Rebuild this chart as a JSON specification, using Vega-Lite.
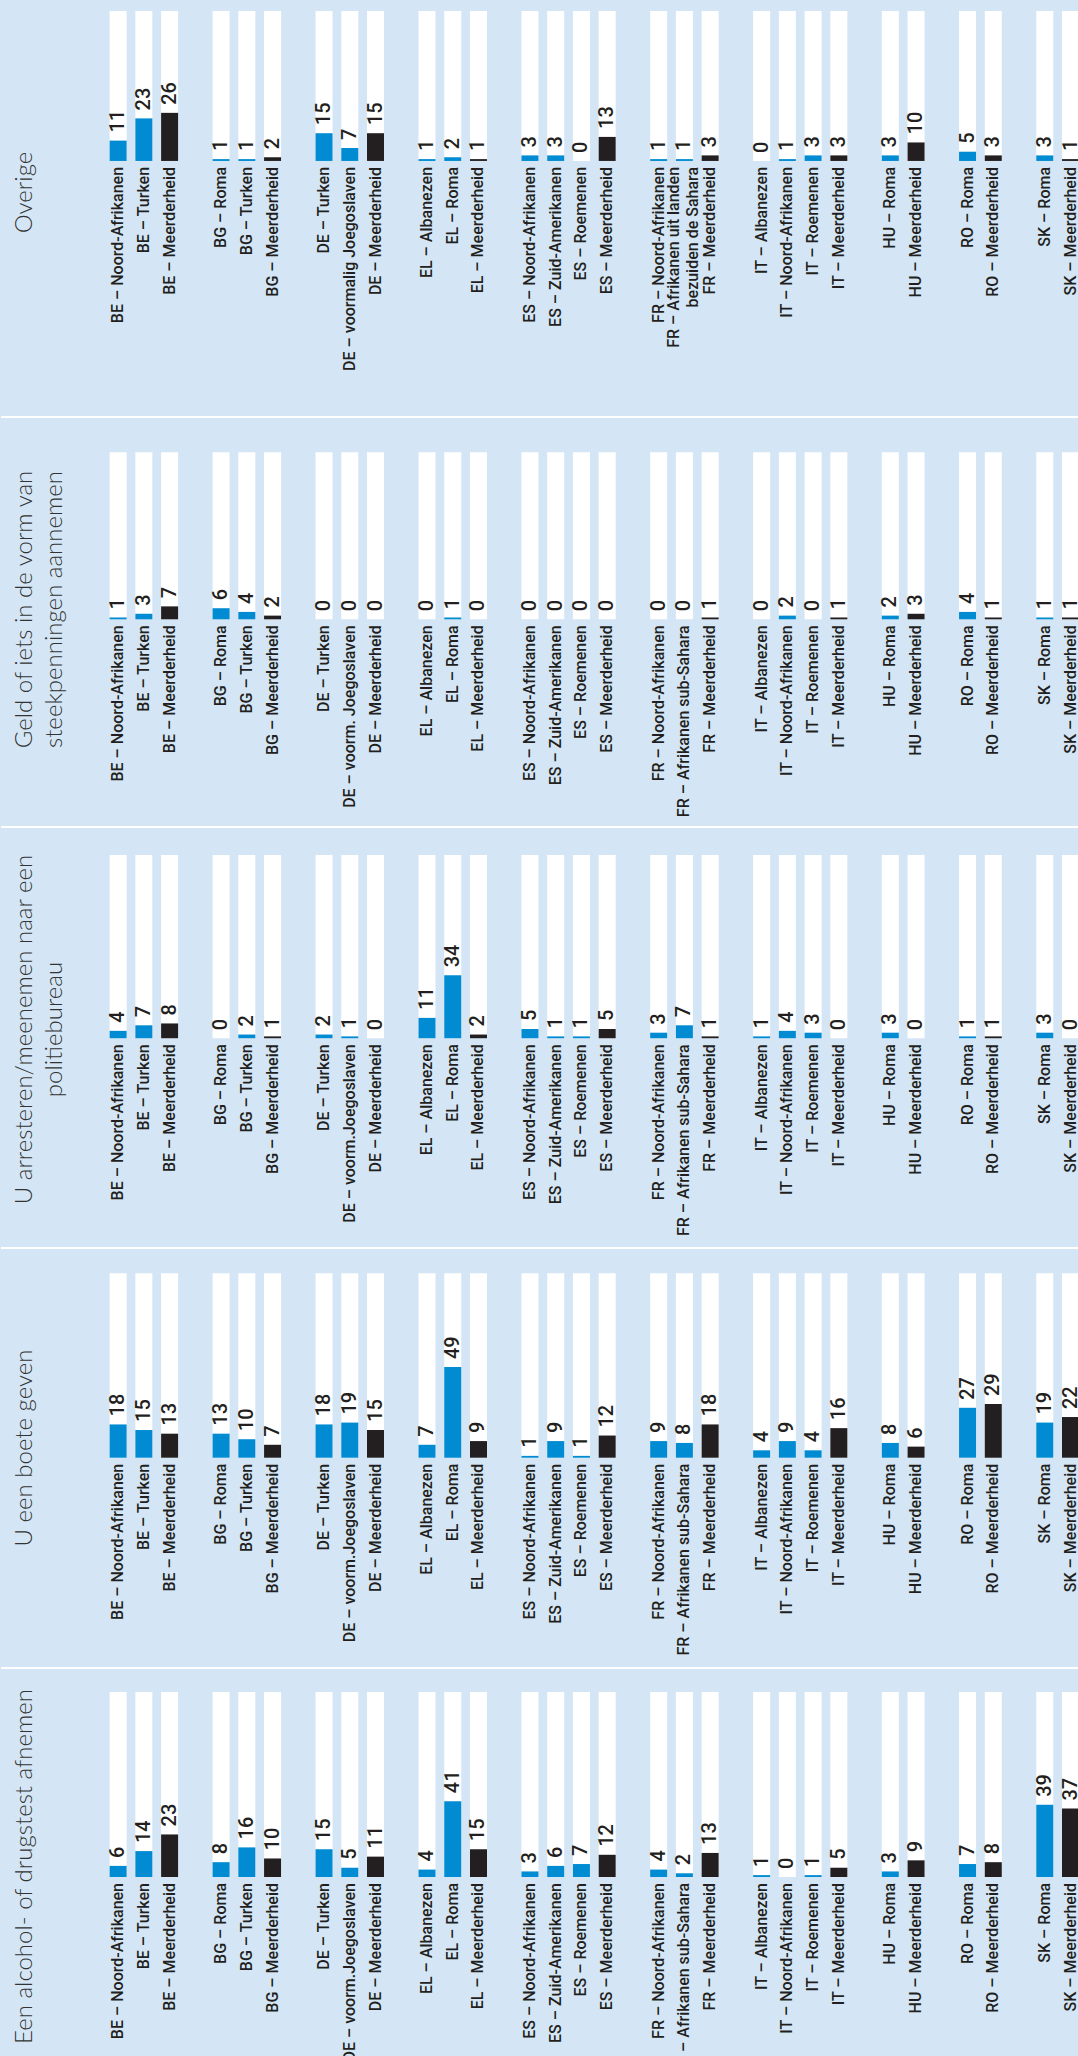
{
  "$schema": "https://vega.github.io/schema/vega-lite/v6.json",
  "background": "#d4e6f5",
  "padding": 0,
  "spacing": 0,
  "bounds": "flush",
  "config": {
    "view": {"stroke": null},
    "axisY": {"labels": false, "ticks": false, "domain": false, "grid": false, "titleAngle": 270, "titleBaseline": "top", "titleAlign": "center", "titleFont": "Lato", "titleFontWeight": 300, "titleFontSize": 24, "titleColor": "#333333", "titleLineHeight": 30}
  },
  "data": {"values": [
    {"p":"O","k":"BE1","l":"BE – Noord-Afrikanen","g":"Minderheid","v":11},
    {"p":"O","k":"BE2","l":"BE – Turken","g":"Minderheid","v":23},
    {"p":"O","k":"BE3","l":"BE – Meerderheid","g":"Meerderheid","v":26},
    {"p":"O","k":"BG1","l":"BG – Roma","g":"Minderheid","v":1},
    {"p":"O","k":"BG2","l":"BG – Turken","g":"Minderheid","v":1},
    {"p":"O","k":"BG3","l":"BG – Meerderheid","g":"Meerderheid","v":2},
    {"p":"O","k":"DE1","l":"DE – Turken","g":"Minderheid","v":15},
    {"p":"O","k":"DE2","l":"DE – voormalig Joegoslaven","g":"Minderheid","v":7},
    {"p":"O","k":"DE3","l":"DE – Meerderheid","g":"Meerderheid","v":15},
    {"p":"O","k":"EL1","l":"EL – Albanezen","g":"Minderheid","v":1},
    {"p":"O","k":"EL2","l":"EL – Roma","g":"Minderheid","v":2},
    {"p":"O","k":"EL3","l":"EL – Meerderheid","g":"Meerderheid","v":1},
    {"p":"O","k":"ES1","l":"ES – Noord-Afrikanen","g":"Minderheid","v":3},
    {"p":"O","k":"ES2","l":"ES – Zuid-Amerikanen","g":"Minderheid","v":3},
    {"p":"O","k":"ES3","l":"ES – Roemenen","g":"Minderheid","v":0},
    {"p":"O","k":"ES4","l":"ES – Meerderheid","g":"Meerderheid","v":13},
    {"p":"O","k":"FR1","l":"FR – Noord-Afrikanen","g":"Minderheid","v":1},
    {"p":"O","k":"FR2","l":"FR – Afrikanen uit landen\nbezuiden de Sahara","g":"Minderheid","v":1},
    {"p":"O","k":"FR3","l":"FR – Meerderheid","g":"Meerderheid","v":3},
    {"p":"O","k":"IT1","l":"IT – Albanezen","g":"Minderheid","v":0},
    {"p":"O","k":"IT2","l":"IT – Noord-Afrikanen","g":"Minderheid","v":1},
    {"p":"O","k":"IT3","l":"IT – Roemenen","g":"Minderheid","v":3},
    {"p":"O","k":"IT4","l":"IT – Meerderheid","g":"Meerderheid","v":3},
    {"p":"O","k":"HU1","l":"HU – Roma","g":"Minderheid","v":3},
    {"p":"O","k":"HU2","l":"HU – Meerderheid","g":"Meerderheid","v":10},
    {"p":"O","k":"RO1","l":"RO – Roma","g":"Minderheid","v":5},
    {"p":"O","k":"RO2","l":"RO – Meerderheid","g":"Meerderheid","v":3},
    {"p":"O","k":"SK1","l":"SK – Roma","g":"Minderheid","v":3},
    {"p":"O","k":"SK2","l":"SK – Meerderheid","g":"Meerderheid","v":1},

    {"p":"G","k":"BE1","l":"BE – Noord-Afrikanen","g":"Minderheid","v":1},
    {"p":"G","k":"BE2","l":"BE – Turken","g":"Minderheid","v":3},
    {"p":"G","k":"BE3","l":"BE – Meerderheid","g":"Meerderheid","v":7},
    {"p":"G","k":"BG1","l":"BG – Roma","g":"Minderheid","v":6},
    {"p":"G","k":"BG2","l":"BG – Turken","g":"Minderheid","v":4},
    {"p":"G","k":"BG3","l":"BG – Meerderheid","g":"Meerderheid","v":2},
    {"p":"G","k":"DE1","l":"DE – Turken","g":"Minderheid","v":0},
    {"p":"G","k":"DE2","l":"DE – voorm. Joegoslaven","g":"Minderheid","v":0},
    {"p":"G","k":"DE3","l":"DE – Meerderheid","g":"Meerderheid","v":0},
    {"p":"G","k":"EL1","l":"EL – Albanezen","g":"Minderheid","v":0},
    {"p":"G","k":"EL2","l":"EL – Roma","g":"Minderheid","v":1},
    {"p":"G","k":"EL3","l":"EL – Meerderheid","g":"Meerderheid","v":0},
    {"p":"G","k":"ES1","l":"ES – Noord-Afrikanen","g":"Minderheid","v":0},
    {"p":"G","k":"ES2","l":"ES – Zuid-Amerikanen","g":"Minderheid","v":0},
    {"p":"G","k":"ES3","l":"ES – Roemenen","g":"Minderheid","v":0},
    {"p":"G","k":"ES4","l":"ES – Meerderheid","g":"Meerderheid","v":0},
    {"p":"G","k":"FR1","l":"FR – Noord-Afrikanen","g":"Minderheid","v":0},
    {"p":"G","k":"FR2","l":"FR – Afrikanen sub-Sahara","g":"Minderheid","v":0},
    {"p":"G","k":"FR3","l":"FR – Meerderheid","g":"Meerderheid","v":1},
    {"p":"G","k":"IT1","l":"IT – Albanezen","g":"Minderheid","v":0},
    {"p":"G","k":"IT2","l":"IT – Noord-Afrikanen","g":"Minderheid","v":2},
    {"p":"G","k":"IT3","l":"IT – Roemenen","g":"Minderheid","v":0},
    {"p":"G","k":"IT4","l":"IT – Meerderheid","g":"Meerderheid","v":1},
    {"p":"G","k":"HU1","l":"HU – Roma","g":"Minderheid","v":2},
    {"p":"G","k":"HU2","l":"HU – Meerderheid","g":"Meerderheid","v":3},
    {"p":"G","k":"RO1","l":"RO – Roma","g":"Minderheid","v":4},
    {"p":"G","k":"RO2","l":"RO – Meerderheid","g":"Meerderheid","v":1},
    {"p":"G","k":"SK1","l":"SK – Roma","g":"Minderheid","v":1},
    {"p":"G","k":"SK2","l":"SK – Meerderheid","g":"Meerderheid","v":1},

    {"p":"A","k":"BE1","l":"BE – Noord-Afrikanen","g":"Minderheid","v":4},
    {"p":"A","k":"BE2","l":"BE – Turken","g":"Minderheid","v":7},
    {"p":"A","k":"BE3","l":"BE – Meerderheid","g":"Meerderheid","v":8},
    {"p":"A","k":"BG1","l":"BG – Roma","g":"Minderheid","v":0},
    {"p":"A","k":"BG2","l":"BG – Turken","g":"Minderheid","v":2},
    {"p":"A","k":"BG3","l":"BG – Meerderheid","g":"Meerderheid","v":1},
    {"p":"A","k":"DE1","l":"DE – Turken","g":"Minderheid","v":2},
    {"p":"A","k":"DE2","l":"DE – voorm.Joegoslaven","g":"Minderheid","v":1},
    {"p":"A","k":"DE3","l":"DE – Meerderheid","g":"Meerderheid","v":0},
    {"p":"A","k":"EL1","l":"EL – Albanezen","g":"Minderheid","v":11},
    {"p":"A","k":"EL2","l":"EL – Roma","g":"Minderheid","v":34},
    {"p":"A","k":"EL3","l":"EL – Meerderheid","g":"Meerderheid","v":2},
    {"p":"A","k":"ES1","l":"ES – Noord-Afrikanen","g":"Minderheid","v":5},
    {"p":"A","k":"ES2","l":"ES – Zuid-Amerikanen","g":"Minderheid","v":1},
    {"p":"A","k":"ES3","l":"ES – Roemenen","g":"Minderheid","v":1},
    {"p":"A","k":"ES4","l":"ES – Meerderheid","g":"Meerderheid","v":5},
    {"p":"A","k":"FR1","l":"FR – Noord-Afrikanen","g":"Minderheid","v":3},
    {"p":"A","k":"FR2","l":"FR – Afrikanen sub-Sahara","g":"Minderheid","v":7},
    {"p":"A","k":"FR3","l":"FR – Meerderheid","g":"Meerderheid","v":1},
    {"p":"A","k":"IT1","l":"IT – Albanezen","g":"Minderheid","v":1},
    {"p":"A","k":"IT2","l":"IT – Noord-Afrikanen","g":"Minderheid","v":4},
    {"p":"A","k":"IT3","l":"IT – Roemenen","g":"Minderheid","v":3},
    {"p":"A","k":"IT4","l":"IT – Meerderheid","g":"Meerderheid","v":0},
    {"p":"A","k":"HU1","l":"HU – Roma","g":"Minderheid","v":3},
    {"p":"A","k":"HU2","l":"HU – Meerderheid","g":"Meerderheid","v":0},
    {"p":"A","k":"RO1","l":"RO – Roma","g":"Minderheid","v":1},
    {"p":"A","k":"RO2","l":"RO – Meerderheid","g":"Meerderheid","v":1},
    {"p":"A","k":"SK1","l":"SK – Roma","g":"Minderheid","v":3},
    {"p":"A","k":"SK2","l":"SK – Meerderheid","g":"Meerderheid","v":0},

    {"p":"B","k":"BE1","l":"BE – Noord-Afrikanen","g":"Minderheid","v":18},
    {"p":"B","k":"BE2","l":"BE – Turken","g":"Minderheid","v":15},
    {"p":"B","k":"BE3","l":"BE – Meerderheid","g":"Meerderheid","v":13},
    {"p":"B","k":"BG1","l":"BG – Roma","g":"Minderheid","v":13},
    {"p":"B","k":"BG2","l":"BG – Turken","g":"Minderheid","v":10},
    {"p":"B","k":"BG3","l":"BG – Meerderheid","g":"Meerderheid","v":7},
    {"p":"B","k":"DE1","l":"DE – Turken","g":"Minderheid","v":18},
    {"p":"B","k":"DE2","l":"DE – voorm.Joegoslaven","g":"Minderheid","v":19},
    {"p":"B","k":"DE3","l":"DE – Meerderheid","g":"Meerderheid","v":15},
    {"p":"B","k":"EL1","l":"EL – Albanezen","g":"Minderheid","v":7},
    {"p":"B","k":"EL2","l":"EL – Roma","g":"Minderheid","v":49},
    {"p":"B","k":"EL3","l":"EL – Meerderheid","g":"Meerderheid","v":9},
    {"p":"B","k":"ES1","l":"ES – Noord-Afrikanen","g":"Minderheid","v":1},
    {"p":"B","k":"ES2","l":"ES – Zuid-Amerikanen","g":"Minderheid","v":9},
    {"p":"B","k":"ES3","l":"ES – Roemenen","g":"Minderheid","v":1},
    {"p":"B","k":"ES4","l":"ES – Meerderheid","g":"Meerderheid","v":12},
    {"p":"B","k":"FR1","l":"FR – Noord-Afrikanen","g":"Minderheid","v":9},
    {"p":"B","k":"FR2","l":"FR – Afrikanen sub-Sahara","g":"Minderheid","v":8},
    {"p":"B","k":"FR3","l":"FR – Meerderheid","g":"Meerderheid","v":18},
    {"p":"B","k":"IT1","l":"IT – Albanezen","g":"Minderheid","v":4},
    {"p":"B","k":"IT2","l":"IT – Noord-Afrikanen","g":"Minderheid","v":9},
    {"p":"B","k":"IT3","l":"IT – Roemenen","g":"Minderheid","v":4},
    {"p":"B","k":"IT4","l":"IT – Meerderheid","g":"Meerderheid","v":16},
    {"p":"B","k":"HU1","l":"HU – Roma","g":"Minderheid","v":8},
    {"p":"B","k":"HU2","l":"HU – Meerderheid","g":"Meerderheid","v":6},
    {"p":"B","k":"RO1","l":"RO – Roma","g":"Minderheid","v":27},
    {"p":"B","k":"RO2","l":"RO – Meerderheid","g":"Meerderheid","v":29},
    {"p":"B","k":"SK1","l":"SK – Roma","g":"Minderheid","v":19},
    {"p":"B","k":"SK2","l":"SK – Meerderheid","g":"Meerderheid","v":22},

    {"p":"D","k":"BE1","l":"BE – Noord-Afrikanen","g":"Minderheid","v":6},
    {"p":"D","k":"BE2","l":"BE – Turken","g":"Minderheid","v":14},
    {"p":"D","k":"BE3","l":"BE – Meerderheid","g":"Meerderheid","v":23},
    {"p":"D","k":"BG1","l":"BG – Roma","g":"Minderheid","v":8},
    {"p":"D","k":"BG2","l":"BG – Turken","g":"Minderheid","v":16},
    {"p":"D","k":"BG3","l":"BG – Meerderheid","g":"Meerderheid","v":10},
    {"p":"D","k":"DE1","l":"DE – Turken","g":"Minderheid","v":15},
    {"p":"D","k":"DE2","l":"DE – voorm.Joegoslaven","g":"Minderheid","v":5},
    {"p":"D","k":"DE3","l":"DE – Meerderheid","g":"Meerderheid","v":11},
    {"p":"D","k":"EL1","l":"EL – Albanezen","g":"Minderheid","v":4},
    {"p":"D","k":"EL2","l":"EL – Roma","g":"Minderheid","v":41},
    {"p":"D","k":"EL3","l":"EL – Meerderheid","g":"Meerderheid","v":15},
    {"p":"D","k":"ES1","l":"ES – Noord-Afrikanen","g":"Minderheid","v":3},
    {"p":"D","k":"ES2","l":"ES – Zuid-Amerikanen","g":"Minderheid","v":6},
    {"p":"D","k":"ES3","l":"ES – Roemenen","g":"Minderheid","v":7},
    {"p":"D","k":"ES4","l":"ES – Meerderheid","g":"Meerderheid","v":12},
    {"p":"D","k":"FR1","l":"FR – Noord-Afrikanen","g":"Minderheid","v":4},
    {"p":"D","k":"FR2","l":"FR – Afrikanen sub-Sahara","g":"Minderheid","v":2},
    {"p":"D","k":"FR3","l":"FR – Meerderheid","g":"Meerderheid","v":13},
    {"p":"D","k":"IT1","l":"IT – Albanezen","g":"Minderheid","v":1},
    {"p":"D","k":"IT2","l":"IT – Noord-Afrikanen","g":"Minderheid","v":0},
    {"p":"D","k":"IT3","l":"IT – Roemenen","g":"Minderheid","v":1},
    {"p":"D","k":"IT4","l":"IT – Meerderheid","g":"Meerderheid","v":5},
    {"p":"D","k":"HU1","l":"HU – Roma","g":"Minderheid","v":3},
    {"p":"D","k":"HU2","l":"HU – Meerderheid","g":"Meerderheid","v":9},
    {"p":"D","k":"RO1","l":"RO – Roma","g":"Minderheid","v":7},
    {"p":"D","k":"RO2","l":"RO – Meerderheid","g":"Meerderheid","v":8},
    {"p":"D","k":"SK1","l":"SK – Roma","g":"Minderheid","v":39},
    {"p":"D","k":"SK2","l":"SK – Meerderheid","g":"Meerderheid","v":37}
  ]},
  "vconcat": [
    {
      "width": 1078, "height": 417,
      "transform": [{"filter": "datum.p === 'O'"}],
      "encoding": {"x": {"field": "k", "type": "nominal", "axis": null, "scale": {"domain": ["a1","a2","a3","a4","BE1","BE2","BE3","s1","BG1","BG2","BG3","s2","DE1","DE2","DE3","s3","EL1","EL2","EL3","s4","ES1","ES2","ES3","ES4","s5","FR1","FR2","FR3","s6","IT1","IT2","IT3","IT4","s7","HU1","HU2","s8","RO1","RO2","s9","SK1","SK2"], "paddingInner": 0.34, "paddingOuter": 0.11, "align": 1, "round": false}}},
      "layer": [
        {"mark": {"type": "bar", "color": "#ffffff"},
         "encoding": {"y": {"datum": 81.1, "type": "quantitative", "scale": {"domain": [-138.4, 87.0], "nice": false, "zero": false},
           "axis": {"title": "Overige", "titleX": 11, "titleY": 192}},
           "y2": {"datum": 0}}},
        {"mark": {"type": "bar"},
         "encoding": {"y": {"field": "v", "type": "quantitative"}, "y2": {"datum": 0},
           "color": {"field": "g", "type": "nominal", "legend": null, "scale": {"domain": ["Minderheid", "Meerderheid"], "range": ["#008bd2", "#231f20"]}}}},
        {"mark": {"type": "text", "angle": 270, "align": "left", "baseline": "middle", "dx": 8, "font": "Roboto", "fontWeight": 500, "fontSize": 20, "color": "#231f20"},
         "encoding": {"y": {"field": "v", "type": "quantitative"}, "text": {"field": "v"}}},
        {"transform": [{"filter": "indexof(datum.l, '\\n') < 0"}],
         "mark": {"type": "text", "angle": 270, "align": "right", "baseline": "middle", "dx": -6, "font": "Roboto", "fontWeight": 500, "fontSize": 16, "color": "#231f20"},
         "encoding": {"y": {"datum": 0, "type": "quantitative"}, "text": {"field": "l"}}},
        {"transform": [{"filter": "indexof(datum.l, '\\n') >= 0"}],
         "mark": {"type": "text", "angle": 270, "align": "right", "baseline": "middle", "dx": -6, "dy": -10, "lineBreak": "\n", "lineHeight": 19, "font": "Roboto", "fontWeight": 500, "fontSize": 16, "color": "#231f20"},
         "encoding": {"y": {"datum": 0, "type": "quantitative"}, "text": {"field": "l"}}}
      ]
    },
    {
      "width": 1078, "height": 410,
      "layer": [
        {
          "transform": [{"filter": "datum.p === 'G'"}],
          "encoding": {"x": {"field": "k", "type": "nominal", "axis": null, "scale": {"domain": ["a1","a2","a3","a4","BE1","BE2","BE3","s1","BG1","BG2","BG3","s2","DE1","DE2","DE3","s3","EL1","EL2","EL3","s4","ES1","ES2","ES3","ES4","s5","FR1","FR2","FR3","s6","IT1","IT2","IT3","IT4","s7","HU1","HU2","s8","RO1","RO2","s9","SK1","SK2"], "paddingInner": 0.34, "paddingOuter": 0.11, "align": 1, "round": false}}},
          "layer": [
            {"mark": {"type": "bar", "color": "#ffffff"},
             "encoding": {"y": {"datum": 90.3, "type": "quantitative", "scale": {"domain": [-112.3, 109.4], "nice": false, "zero": false},
               "axis": {"title": ["Geld of iets in de vorm van", "steekpenningen aannemen"], "titleX": 11, "titleY": 192}},
               "y2": {"datum": 0}}},
            {"mark": {"type": "bar"},
             "encoding": {"y": {"field": "v", "type": "quantitative"}, "y2": {"datum": 0},
               "color": {"field": "g", "type": "nominal", "legend": null, "scale": {"domain": ["Minderheid", "Meerderheid"], "range": ["#008bd2", "#231f20"]}}}},
            {"mark": {"type": "text", "angle": 270, "align": "left", "baseline": "middle", "dx": 8, "font": "Roboto", "fontWeight": 500, "fontSize": 20, "color": "#231f20"},
             "encoding": {"y": {"field": "v", "type": "quantitative"}, "text": {"field": "v"}}},
            {"mark": {"type": "text", "angle": 270, "align": "right", "baseline": "middle", "dx": -6, "font": "Roboto", "fontWeight": 500, "fontSize": 16, "color": "#231f20"},
             "encoding": {"y": {"datum": 0, "type": "quantitative"}, "text": {"field": "l"}}}
          ]
        },
        {"data": {"values": [{}]}, "mark": {"type": "rule", "color": "#ffffff", "strokeWidth": 2},
         "encoding": {"y": {"datum": 109.4, "type": "quantitative"}}}
      ]
    },
    {
      "width": 1078, "height": 421,
      "layer": [
        {
          "transform": [{"filter": "datum.p === 'A'"}],
          "encoding": {"x": {"field": "k", "type": "nominal", "axis": null, "scale": {"domain": ["a1","a2","a3","a4","BE1","BE2","BE3","s1","BG1","BG2","BG3","s2","DE1","DE2","DE3","s3","EL1","EL2","EL3","s4","ES1","ES2","ES3","ES4","s5","FR1","FR2","FR3","s6","IT1","IT2","IT3","IT4","s7","HU1","HU2","s8","RO1","RO2","s9","SK1","SK2"], "paddingInner": 0.34, "paddingOuter": 0.11, "align": 1, "round": false}}},
          "layer": [
            {"mark": {"type": "bar", "color": "#ffffff"},
             "encoding": {"y": {"datum": 99.1, "type": "quantitative", "scale": {"domain": [-113.4, 114.2], "nice": false, "zero": false},
               "axis": {"title": ["U arresteren/meenemen naar een", "politiebureau"], "titleX": 11, "titleY": 202}},
               "y2": {"datum": 0}}},
            {"mark": {"type": "bar"},
             "encoding": {"y": {"field": "v", "type": "quantitative"}, "y2": {"datum": 0},
               "color": {"field": "g", "type": "nominal", "legend": null, "scale": {"domain": ["Minderheid", "Meerderheid"], "range": ["#008bd2", "#231f20"]}}}},
            {"mark": {"type": "text", "angle": 270, "align": "left", "baseline": "middle", "dx": 8, "font": "Roboto", "fontWeight": 500, "fontSize": 20, "color": "#231f20"},
             "encoding": {"y": {"field": "v", "type": "quantitative"}, "text": {"field": "v"}}},
            {"mark": {"type": "text", "angle": 270, "align": "right", "baseline": "middle", "dx": -6, "font": "Roboto", "fontWeight": 500, "fontSize": 16, "color": "#231f20"},
             "encoding": {"y": {"datum": 0, "type": "quantitative"}, "text": {"field": "l"}}}
          ]
        },
        {"data": {"values": [{}]}, "mark": {"type": "rule", "color": "#ffffff", "strokeWidth": 2},
         "encoding": {"y": {"datum": 114.2, "type": "quantitative"}}}
      ]
    },
    {
      "width": 1078, "height": 420,
      "layer": [
        {
          "transform": [{"filter": "datum.p === 'B'"}],
          "encoding": {"x": {"field": "k", "type": "nominal", "axis": null, "scale": {"domain": ["a1","a2","a3","a4","BE1","BE2","BE3","s1","BG1","BG2","BG3","s2","DE1","DE2","DE3","s3","EL1","EL2","EL3","s4","ES1","ES2","ES3","ES4","s5","FR1","FR2","FR3","s6","IT1","IT2","IT3","IT4","s7","HU1","HU2","s8","RO1","RO2","s9","SK1","SK2"], "paddingInner": 0.34, "paddingOuter": 0.11, "align": 1, "round": false}}},
          "layer": [
            {"mark": {"type": "bar", "color": "#ffffff"},
             "encoding": {"y": {"datum": 99.7, "type": "quantitative", "scale": {"domain": [-113.7, 113.4], "nice": false, "zero": false},
               "axis": {"title": "U een boete geven", "titleX": 11, "titleY": 199.5}},
               "y2": {"datum": 0}}},
            {"mark": {"type": "bar"},
             "encoding": {"y": {"field": "v", "type": "quantitative"}, "y2": {"datum": 0},
               "color": {"field": "g", "type": "nominal", "legend": null, "scale": {"domain": ["Minderheid", "Meerderheid"], "range": ["#008bd2", "#231f20"]}}}},
            {"mark": {"type": "text", "angle": 270, "align": "left", "baseline": "middle", "dx": 8, "font": "Roboto", "fontWeight": 500, "fontSize": 20, "color": "#231f20"},
             "encoding": {"y": {"field": "v", "type": "quantitative"}, "text": {"field": "v"}}},
            {"mark": {"type": "text", "angle": 270, "align": "right", "baseline": "middle", "dx": -6, "font": "Roboto", "fontWeight": 500, "fontSize": 16, "color": "#231f20"},
             "encoding": {"y": {"datum": 0, "type": "quantitative"}, "text": {"field": "l"}}}
          ]
        },
        {"data": {"values": [{}]}, "mark": {"type": "rule", "color": "#ffffff", "strokeWidth": 2},
         "encoding": {"y": {"datum": 113.4, "type": "quantitative"}}}
      ]
    },
    {
      "width": 1078, "height": 388,
      "layer": [
        {
          "transform": [{"filter": "datum.p === 'D'"}],
          "encoding": {"x": {"field": "k", "type": "nominal", "axis": null, "scale": {"domain": ["a1","a2","a3","a4","BE1","BE2","BE3","s1","BG1","BG2","BG3","s2","DE1","DE2","DE3","s3","EL1","EL2","EL3","s4","ES1","ES2","ES3","ES4","s5","FR1","FR2","FR3","s6","IT1","IT2","IT3","IT4","s7","HU1","HU2","s8","RO1","RO2","s9","SK1","SK2"], "paddingInner": 0.34, "paddingOuter": 0.11, "align": 1, "round": false}}},
          "layer": [
            {"mark": {"type": "bar", "color": "#ffffff"},
             "encoding": {"y": {"datum": 100, "type": "quantitative", "scale": {"domain": [-96.8, 113.0], "nice": false, "zero": false},
               "axis": {"title": "Een alcohol- of drugstest afnemen", "titleX": 11, "titleY": 198}},
               "y2": {"datum": 0}}},
            {"mark": {"type": "bar"},
             "encoding": {"y": {"field": "v", "type": "quantitative"}, "y2": {"datum": 0},
               "color": {"field": "g", "type": "nominal", "legend": null, "scale": {"domain": ["Minderheid", "Meerderheid"], "range": ["#008bd2", "#231f20"]}}}},
            {"mark": {"type": "text", "angle": 270, "align": "left", "baseline": "middle", "dx": 8, "font": "Roboto", "fontWeight": 500, "fontSize": 20, "color": "#231f20"},
             "encoding": {"y": {"field": "v", "type": "quantitative"}, "text": {"field": "v"}}},
            {"mark": {"type": "text", "angle": 270, "align": "right", "baseline": "middle", "dx": -6, "font": "Roboto", "fontWeight": 500, "fontSize": 16, "color": "#231f20"},
             "encoding": {"y": {"datum": 0, "type": "quantitative"}, "text": {"field": "l"}}}
          ]
        },
        {"data": {"values": [{}]}, "mark": {"type": "rule", "color": "#ffffff", "strokeWidth": 2},
         "encoding": {"y": {"datum": 113.0, "type": "quantitative"}}}
      ]
    }
  ]
}
